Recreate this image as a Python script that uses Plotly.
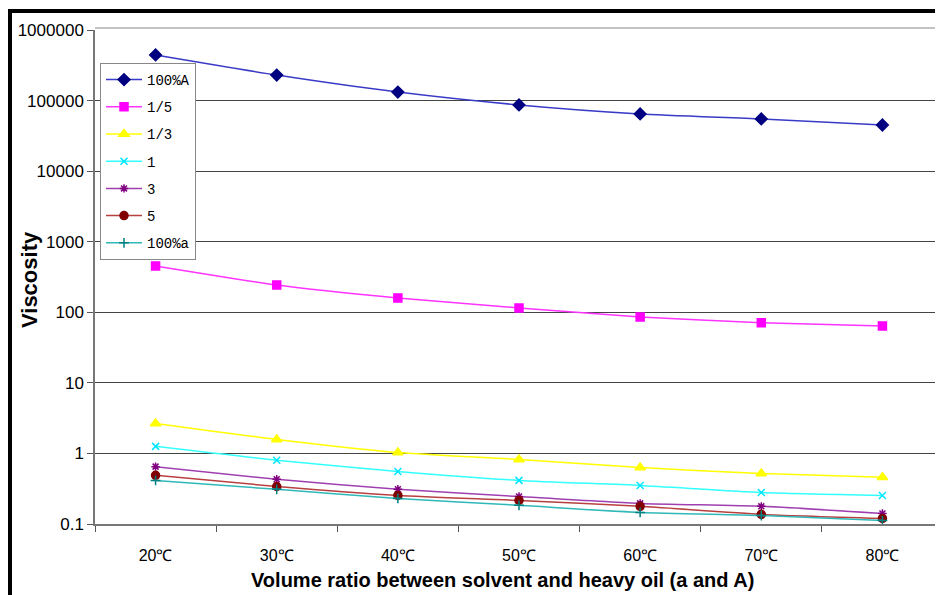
import plotly.graph_objects as go

categories = ["20℃", "30℃", "40℃", "50℃", "60℃", "70℃", "80℃"]
series_names = ["100%A", "1/5", "1/3", "1", "3", "5", "100%a"]
v_100A = [443000, 230000, 132000, 86700, 64600, 55000, 45100]
v_1_5 = [454, 244, 160, 115, 86, 71, 64]
v_1_3 = [2.66, 1.58, 1.03, 0.82, 0.63, 0.52, 0.46]
v_1 = [1.26, 0.80, 0.556, 0.415, 0.352, 0.28, 0.254]
v_3 = [0.65, 0.43, 0.31, 0.245, 0.196, 0.178, 0.141]
v_5 = [0.49, 0.34, 0.254, 0.216, 0.178, 0.137, 0.12]
v_100a = [0.415, 0.31, 0.23, 0.184, 0.146, 0.132, 0.112]
y_ticks = [0.1, 1, 10, 100, 1000, 10000, 100000, 1000000]
y_tick_text = ["0.1", "1", "10", "100", "1000", "10000", "100000", "1000000"]

values = [v_100A, v_1_5, v_1_3, v_1, v_3, v_5, v_100a]
styles = [
    dict(line="#3a3ac8", marker="#000080", symbol="diamond", size=9),
    dict(line="#ff33ff", marker="#ff00ff", symbol="square", size=8),
    dict(line="#ffff00", marker="#ffff00", symbol="triangle-up", size=9),
    dict(line="#33ffff", marker="#00e5ff", symbol="x-thin-open", size=7),
    dict(line="#a040b0", marker="#800080", symbol="asterisk-open", size=7),
    dict(line="#b84040", marker="#800000", symbol="circle", size=8),
    dict(line="#30b8b8", marker="#008080", symbol="cross-thin-open", size=7),
]

fig = go.Figure()
for i, (name, vals, st) in enumerate(zip(series_names, values, styles)):
    fig.add_trace(go.Scatter(
        x=categories, y=vals, name=name, mode="lines+markers",
        legendgroup=name,
        line=dict(color=st["line"], width=1.5, shape="spline", smoothing=0.6),
        marker=dict(symbol=st["symbol"], size=st["size"], color=st["marker"],
                    line=dict(color=st["marker"], width=1.5)),
    ))

OFF = 8  # page body margin
W, H = 935, 587
L, R, T, B = 95 - OFF, 0, 30 - OFF, H - (524 - OFF)
pw, ph = W - L - R, H - T - B

def px_x(p):
    return (p - OFF - L) / pw

def px_y(p):
    return (H - B - (p - OFF)) / ph

fig.update_layout(
    width=W, height=H,
    margin=dict(l=L, r=R, t=T, b=B, autoexpand=False),
    paper_bgcolor="white", plot_bgcolor="white",
    font=dict(family="Liberation Sans", color="black"),
    showlegend=True,
    legend=dict(
        x=px_x(100), y=px_y(63), xanchor="left", yanchor="top",
        bgcolor="white", bordercolor="#888888", borderwidth=1,
        font=dict(family="Liberation Mono", size=14, color="black"),
        tracegroupgap=6, itemwidth=36,
    ),
    xaxis=dict(
        type="category", range=[-0.5, 6.5], automargin=False,
        showgrid=False, showline=True, linecolor="#777777", linewidth=1.5,
        ticks="outside", tickson="boundaries", ticklen=6, tickcolor="#555555",
        tickfont=dict(size=16, family="Liberation Sans"),
        ticklabelstandoff=16,
    ),
    yaxis=dict(
        type="log", range=[-1, 6], automargin=False,
        tickvals=y_ticks, ticktext=y_tick_text,
        showgrid=True, gridcolor="#444444", gridwidth=1,
        showline=True, linecolor="#777777", linewidth=1.5,
        ticks="outside", ticklen=6, tickcolor="#555555",
        tickfont=dict(size=17, family="Liberation Sans"),
        zeroline=False,
    ),
)

fig.add_annotation(text="<b>Volume ratio between solvent and heavy oil (a and A)</b>",
                   xref="paper", yref="paper", x=px_x(502), y=px_y(580),
                   xanchor="center", yanchor="middle", showarrow=False,
                   font=dict(size=20, family="Liberation Sans"))
fig.add_annotation(text="<b>Viscosity</b>", textangle=-90,
                   xref="paper", yref="paper", x=px_x(29), y=px_y(280),
                   xanchor="center", yanchor="middle", showarrow=False,
                   font=dict(size=22, family="Liberation Sans"))

# outer frame (top and left black border of the original image)
fig.add_shape(type="line", xref="paper", yref="paper",
              x0=px_x(8), x1=1.05, y0=px_y(11), y1=px_y(11),
              line=dict(color="black", width=4))
fig.add_shape(type="line", xref="paper", yref="paper",
              x0=px_x(10), x1=px_x(10), y0=px_y(11), y1=px_y(600),
              line=dict(color="black", width=4))
# top double line of plot area
fig.add_shape(type="line", xref="paper", yref="paper",
              x0=0, x1=1, y0=px_y(28), y1=px_y(28),
              line=dict(color="#888888", width=1))

fig.write_html("out.html")
